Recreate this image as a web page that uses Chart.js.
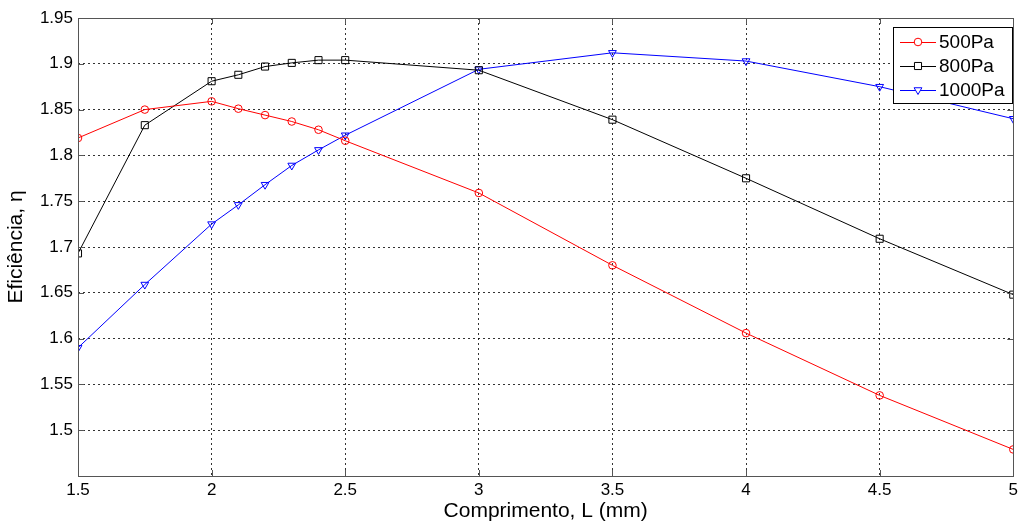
<!DOCTYPE html>
<html>
<head>
    <title>Eficiência x Comprimento</title>
    <style>
        body {
            margin: 0;
            padding: 0;
            background-color: #ffffff;
        }
        #chart-container {
            width: 1022px;
            height: 521px;
        }
    </style>
</head>
<body>
<div id="chart-container">
    <canvas id="chart" width="1022" height="521"></canvas>
</div>
<script src="https://cdn.jsdelivr.net/npm/chart.js"></script>
<script>
    // Comprimento L (mm)
    const comprimento = [1.5, 1.75, 2, 2.1, 2.2, 2.3, 2.4, 2.5, 3, 3.5, 4, 4.5, 5];

    // Eficiência for each pressure
    const efic500 = [1.819, 1.850, 1.859, 1.851, 1.844, 1.837, 1.828, 1.816, 1.759, 1.680, 1.606, 1.538, 1.479];
    const efic800 = [1.693, 1.833, 1.881, 1.888, 1.897, 1.901, 1.904, 1.904, 1.893, 1.839, 1.775, 1.709, 1.648];
    const efic1000 = [1.590, 1.659, 1.725, 1.746, 1.768, 1.789, 1.806, 1.822, 1.894, 1.912, 1.903, 1.875, 1.840];

    // Tick labels
    const xTicks = [1.5, 2, 2.5, 3, 3.5, 4, 4.5, 5];
    const yTicks = [1.5, 1.55, 1.6, 1.65, 1.7, 1.75, 1.8, 1.85, 1.9, 1.95];

    const FONT = 'Arial, "Liberation Sans", sans-serif';

    function toPoints(ys) {
      return comprimento.map((x, i) => ({ x: x, y: ys[i] }));
    }

    // Matlab-like box round the axes, with inner tick marks
    const boxPlugin = {
      id: 'box',
      afterDatasetsDraw(chart) {
        const { ctx, chartArea: a, scales } = chart;
        ctx.save();
        ctx.strokeStyle = '#555';
        ctx.lineWidth = 1;
        ctx.beginPath();
        xTicks.forEach(v => {
          const px = Math.round(scales.x.getPixelForValue(v)) + 0.5;
          ctx.moveTo(px, a.bottom); ctx.lineTo(px, a.bottom - 6);
          ctx.moveTo(px, a.top); ctx.lineTo(px, a.top + 6);
        });
        yTicks.forEach(v => {
          const py = Math.round(scales.y.getPixelForValue(v)) + 0.5;
          ctx.moveTo(a.left, py); ctx.lineTo(a.left + 6, py);
          ctx.moveTo(a.right, py); ctx.lineTo(a.right - 6, py);
        });
        ctx.stroke();
        ctx.strokeRect(Math.round(a.left) + 0.5, Math.round(a.top) + 0.5,
                       Math.round(a.right - a.left), Math.round(a.bottom - a.top));
        ctx.restore();
      },
      afterDraw(chart) {
        // legend box, line + marker like Matlab
        const ctx = chart.ctx;
        const x0 = 893, y0 = 27, w = 119, h = 76;
        ctx.save();
        ctx.fillStyle = '#fff';
        ctx.fillRect(x0, y0, w, h);
        ctx.strokeStyle = '#000';
        ctx.lineWidth = 1;
        ctx.strokeRect(x0 + 0.5, y0 + 0.5, w, h);
        chart.data.datasets.forEach((ds, i) => {
          const y = y0 + 15 + i * 24;
          ctx.strokeStyle = ds.borderColor;
          ctx.beginPath();
          ctx.moveTo(900, y + 0.5); ctx.lineTo(936, y + 0.5);
          ctx.stroke();
          ctx.fillStyle = '#fff';
          Chart.helpers.drawPoint(ctx, {
            pointStyle: ds.pointStyle,
            rotation: ds.pointRotation || 0,
            radius: ds.pointRadius,
            borderWidth: 1
          }, 918, y);
          ctx.fillStyle = '#000';
          ctx.font = '19px ' + FONT;
          ctx.textBaseline = 'middle';
          ctx.textAlign = 'left';
          ctx.fillText(ds.label, 939, y + 1);
        });
        ctx.restore();
      }
    };

    const ctx = document.getElementById('chart').getContext('2d');

    const chart = new Chart(ctx, {
      type: 'line',
      data: {
        datasets: [{
          label: '500Pa',
          data: toPoints(efic500),
          borderColor: '#ff0000',
          backgroundColor: 'rgba(0,0,0,0)',
          pointStyle: 'circle',
          pointRadius: 3.8,
        }, {
          label: '800Pa',
          data: toPoints(efic800),
          borderColor: '#000000',
          backgroundColor: 'rgba(0,0,0,0)',
          pointStyle: 'rect',
          pointRadius: 5,
        }, {
          label: '1000Pa',
          data: toPoints(efic1000),
          borderColor: '#0000ff',
          backgroundColor: 'rgba(0,0,0,0)',
          pointStyle: 'triangle',
          pointRotation: 180,
          pointRadius: 4.5,
        }],
      },
      options: {
        responsive: false,
        animation: false,
        events: [],
        elements: {
          line: { borderWidth: 1, tension: 0 },
          point: { borderWidth: 1 },
        },
        layout: {
          padding: { top: 18, right: 7, left: 0, bottom: 0 },
        },
        scales: {
          x: {
            type: 'linear',
            min: 1.5,
            max: 5,
            afterFit: s => { s.height = 45; },
            afterBuildTicks: s => { s.ticks = xTicks.map(v => ({ value: v })); },
            ticks: {
              color: '#000',
              padding: 4,
              maxRotation: 0,
              font: { family: FONT, size: 17 },
              callback: v => String(v),
            },
            grid: {
              color: 'rgba(0,0,0,0.8)',
              drawTicks: false,
            },
            border: { display: false, dash: [2, 3] },
            title: {
              display: true,
              text: 'Comprimento, L (mm)',
              color: '#000',
              font: { family: FONT, size: 21 },
              padding: { top: 0, bottom: -3 },
            },
          },
          y: {
            min: 1.45,
            max: 1.95,
            afterFit: s => { s.width = 78; },
            afterBuildTicks: s => { s.ticks = yTicks.map(v => ({ value: v })); },
            ticks: {
              color: '#000',
              padding: 5,
              font: { family: FONT, size: 17 },
              callback: v => String(Number(v.toFixed(2))),
            },
            grid: {
              color: 'rgba(0,0,0,0.8)',
              drawTicks: false,
            },
            border: { display: false, dash: [2, 3] },
            title: {
              display: true,
              text: 'Eficiência, η',
              color: '#000',
              font: { family: FONT, size: 21 },
              padding: { top: 4, bottom: 0 },
            },
          },
        },
        plugins: {
          legend: { display: false },
          tooltip: { enabled: false },
        },
      },
      plugins: [boxPlugin],
    });
</script>
</body>
</html>
